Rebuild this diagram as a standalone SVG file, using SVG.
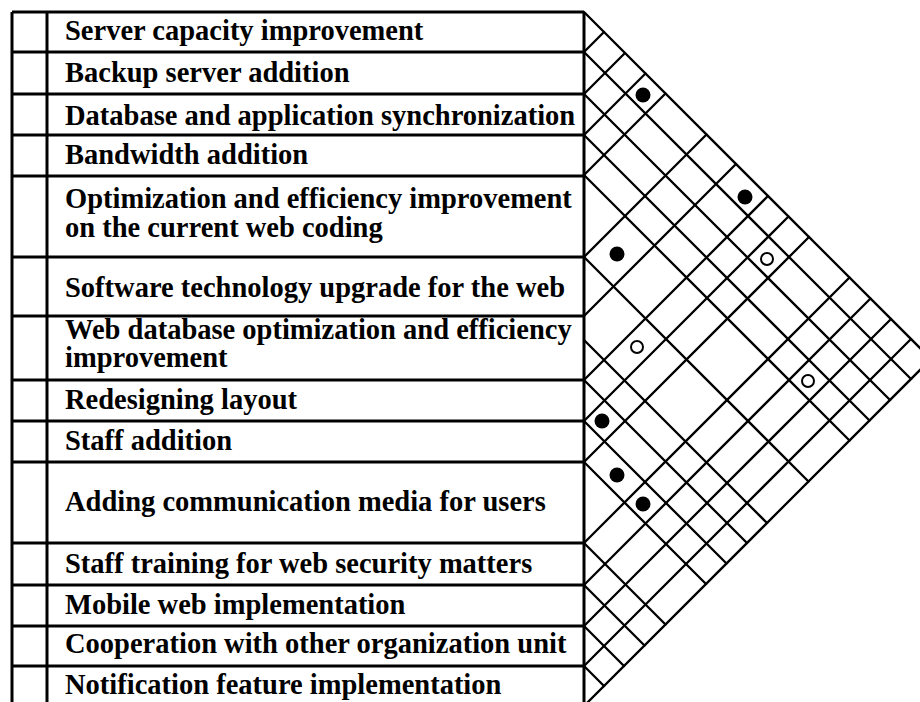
<svg xmlns="http://www.w3.org/2000/svg" width="920" height="702" viewBox="0 0 920 702">
<style>
.t{font-family:"Liberation Serif","Times New Roman",serif;font-weight:bold;font-size:28.5px;fill:#000}
.h{stroke:#000;stroke-width:3;fill:none}
.g{stroke:#000;stroke-width:2.3;fill:none;stroke-linecap:round}
.f{fill:#000}
.o{fill:#fff;stroke:#000;stroke-width:2}
</style>
<rect width="920" height="702" fill="#fff"/>
<g id="table-frame">
<line class="h" x1="12" y1="12" x2="12" y2="706"/>
<line class="h" x1="47" y1="12" x2="47" y2="706"/>
<line class="h" x1="584" y1="12" x2="584" y2="706"/>
<line class="h" x1="12" y1="12" x2="584" y2="12"/>
</g>
<g id="row1"><line class="h" x1="12" y1="52" x2="584" y2="52"/><text class="t" x="65" y="40">Server capacity improvement</text></g>
<g id="row2"><line class="h" x1="12" y1="94" x2="584" y2="94"/><text class="t" x="65" y="82">Backup server addition</text></g>
<g id="row3"><line class="h" x1="12" y1="135" x2="584" y2="135"/><text class="t" x="65" y="125">Database and application synchronization</text></g>
<g id="row4"><line class="h" x1="12" y1="176" x2="584" y2="176"/><text class="t" x="65" y="164">Bandwidth addition</text></g>
<g id="row5"><line class="h" x1="12" y1="257" x2="584" y2="257"/><text class="t" x="65" y="208">Optimization and efficiency improvement</text><text class="t" x="65" y="237">on the current web coding</text></g>
<g id="row6"><line class="h" x1="12" y1="316" x2="584" y2="316"/><text class="t" x="65" y="297">Software technology upgrade for the web</text></g>
<g id="row7"><line class="h" x1="12" y1="380" x2="584" y2="380"/><text class="t" x="65" y="339">Web database optimization and efficiency</text><text class="t" x="65" y="367">improvement</text></g>
<g id="row8"><line class="h" x1="12" y1="421" x2="584" y2="421"/><text class="t" x="65" y="409">Redesigning layout</text></g>
<g id="row9"><line class="h" x1="12" y1="462" x2="584" y2="462"/><text class="t" x="65" y="450">Staff addition</text></g>
<g id="row10"><line class="h" x1="12" y1="543" x2="584" y2="543"/><text class="t" x="65" y="511">Adding communication media for users</text></g>
<g id="row11"><line class="h" x1="12" y1="585" x2="584" y2="585"/><text class="t" x="65" y="573">Staff training for web security matters</text></g>
<g id="row12"><line class="h" x1="12" y1="626" x2="584" y2="626"/><text class="t" x="65" y="614">Mobile web implementation</text></g>
<g id="row13"><line class="h" x1="12" y1="666" x2="584" y2="666"/><text class="t" x="65" y="653">Cooperation with other organization unit</text></g>
<g id="row14"><text class="t" x="65" y="694">Notification feature implementation</text></g>
<g id="connectors">
<path class="g" d="M584 12L931 359L584 706"/>
<path class="g" d="M584 52L911 379M584 94L890 400M584 135L869.5 420.5M584 175L849.5 440.5M584 257L808.5 481.5M584 340L767 523M584 380L747 543M584 421L726.5 563.5M584 462L706 584M584 543L665.5 624.5M584 585L644.5 645.5M584 626L624 666M584 666L604 686"/>
<path class="g" d="M584 52L604 32M584 94L625 53M584 135L645.5 73.5M584 175L665.5 93.5M584 257L706.5 134.5M584 316L736 164M584 380L768 196M584 421L788.5 216.5M584 462L809 237M584 543L849.5 277.5M584 585L870.5 298.5M584 626L891 319M584 666L911 339"/>
</g>
<g id="marks">
<circle class="f" cx="643" cy="95" r="7.5"/>
<circle class="f" cx="745" cy="197" r="7.5"/>
<circle class="f" cx="617" cy="254" r="7.5"/>
<circle class="o" cx="767" cy="259" r="6"/>
<circle class="o" cx="637" cy="347" r="6"/>
<circle class="o" cx="808" cy="381" r="6"/>
<circle class="f" cx="602" cy="421" r="7.5"/>
<circle class="f" cx="617" cy="475" r="7.5"/>
<circle class="f" cx="643" cy="504" r="7.5"/>
</g>
</svg>
